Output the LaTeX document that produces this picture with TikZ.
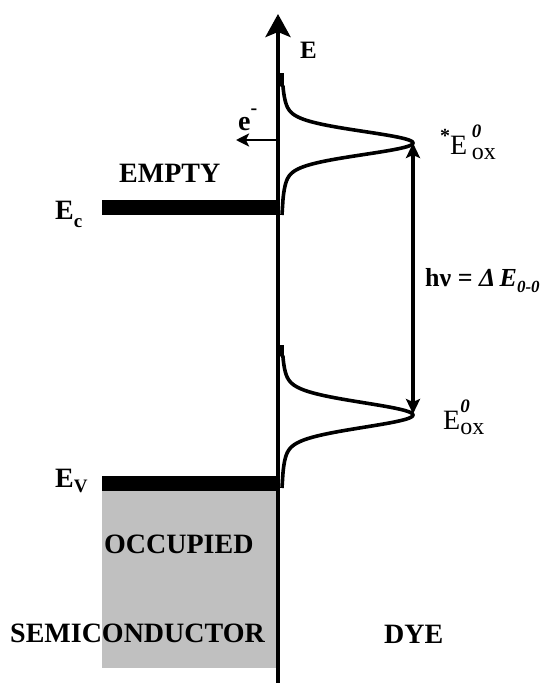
\documentclass[tikz,border=0pt]{standalone}
\usepackage{fontspec}
\setmainfont{Liberation Serif}
\usetikzlibrary{arrows.meta}
\definecolor{occgray}{HTML}{C0C0C0}
\begin{document}
\begin{tikzpicture}[x=1pt,y=-1pt,
  lbl/.style={font=\fontsize{28}{28}\selectfont\bfseries, inner sep=0pt, anchor=base west},
  elbl/.style={font=\fontsize{28}{28}\selectfont, inner sep=0pt, anchor=base west},
  dos/.style={line width=3.6pt, line join=round},
  bandbar/.style={fill=black},
  axisline/.style={line width=4.2pt, -{Stealth[length=23pt,width=25pt,inset=5pt]}},
  trans/.style={line width=3.2pt, {Stealth[length=15pt,width=14pt,inset=3pt]}-{Stealth[length=15pt,width=14pt,inset=3pt]}},
  eline/.style={line width=2.6pt, -{Stealth[length=13pt,width=13pt,inset=3pt]}}
]
\useasboundingbox (0,0) rectangle (549,683);
% occupied band
\fill[occgray] (102,491) rectangle (276,668);
% band edges
\fill[bandbar] (102,200) rectangle (280,215);
\fill[bandbar] (102,476) rectangle (280,491);
% axis
\coordinate (axb) at (278,683);
\coordinate (axt) at (278,14);
\draw[axisline] (axb) -- (axt);
% dye density of states
\draw[dos] (282,73) -- (282,86) -- plot[domain=-57:57,samples=140] ({282+131*(0.9*exp(-(\x*\x/256))+0.1*exp(-(\x*\x/1239)))},{143+\x}) -- (282,215);
\draw[dos] (282,345) -- (282,356) -- plot[domain=-59:59,samples=140] ({282+131*(0.9*exp(-(\x*\x/290))+0.1*exp(-(\x*\x/1300)))},{415+\x}) -- (282,488);
% transition arrow
\coordinate (pk1) at (413,143);
\coordinate (pk2) at (413,414);
\draw[trans] (pk1) -- (pk2);
% electron injection
\coordinate (eax) at (278,140);
\coordinate (eend) at (236,140);
\draw[eline] (eax) -- (eend);
% labels
\node[lbl, font=\fontsize{25}{25}\selectfont\bfseries] (E) at (300,58) {E};
\node[lbl] (elec) at (238,130) {e\raisebox{0.55em}{\fontsize{20}{20}\selectfont -}};
\node[lbl] (empty) at (119,182) {EMPTY};
\node[lbl] (Ec) at (55,219) {E\raisebox{-0.3em}{\fontsize{19}{19}\selectfont c}};
\node[lbl] (Ev) at (55,487) {E\raisebox{-0.2em}{\fontsize{19}{19}\selectfont V}};
\node[lbl] (occ) at (104,553) {OCCUPIED};
\node[lbl] (semi) at (10,642) {SEMICONDUCTOR};
\node[lbl] (dye) at (384,643) {DYE};
\node[elbl] (Eox1) at (440,154) {\raisebox{0.4em}{\fontsize{20}{20}\selectfont\bfseries *}E\,\rlap{\raisebox{0.6em}{\fontsize{19}{19}\selectfont\bfseries\itshape 0}}\raisebox{-0.18em}{\fontsize{24}{24}\selectfont ox}};
\node[elbl] (Eox0) at (443,429) {E\rlap{\raisebox{0.6em}{\fontsize{19}{19}\selectfont\bfseries\itshape 0}}\raisebox{-0.18em}{\fontsize{24}{24}\selectfont ox}};
\node[lbl, font=\fontsize{26}{26}\selectfont\bfseries] (hnu) at (425,286) {hν = {\itshape Δ\,E}\raisebox{-0.25em}{\fontsize{17}{17}\selectfont\bfseries\itshape 0-0}};
\end{tikzpicture}
\end{document}
